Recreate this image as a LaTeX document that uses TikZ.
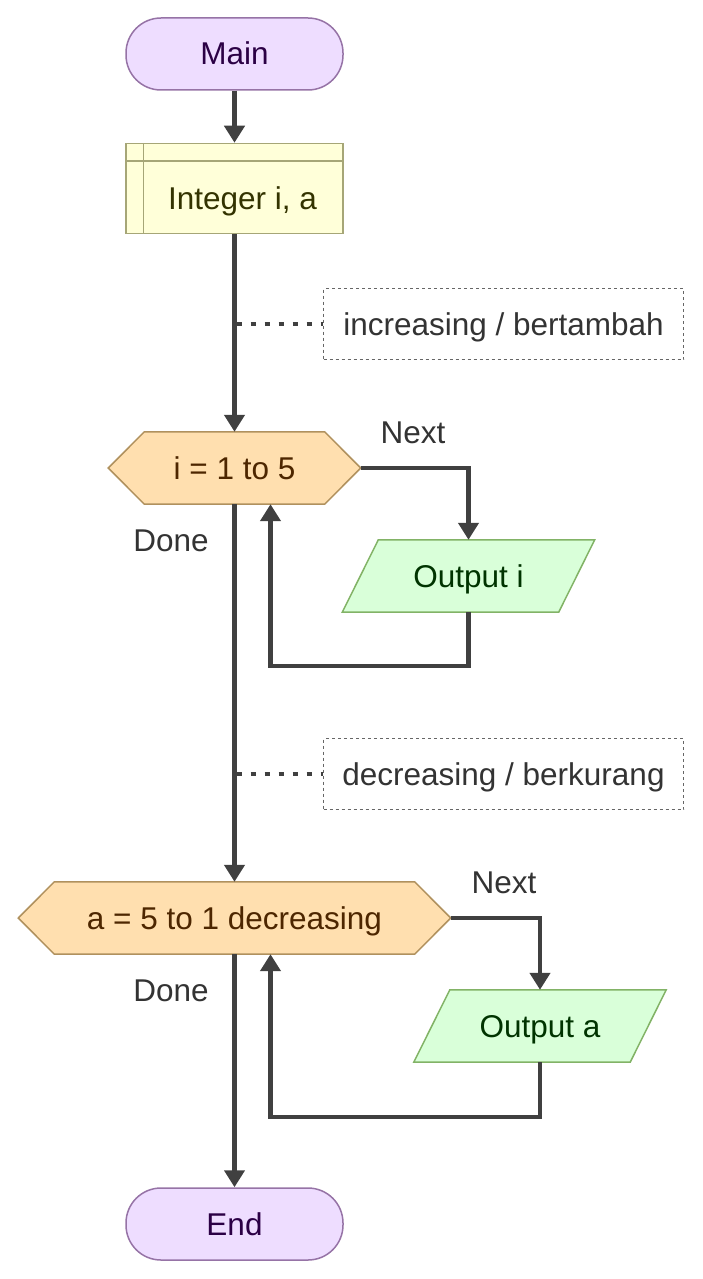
\documentclass[tikz,border=0pt]{standalone}
\usepackage{fontspec}
\setmainfont{Liberation Sans}
\usetikzlibrary{arrows.meta,calc,backgrounds}
\definecolor{termfill}{HTML}{EEDDFF}
\definecolor{termline}{HTML}{9673A6}
\definecolor{termtext}{HTML}{2B0045}
\definecolor{procfill}{HTML}{FFFFD9}
\definecolor{procline}{HTML}{A6A677}
\definecolor{proctext}{HTML}{333300}
\definecolor{hexfill}{HTML}{FFDFAF}
\definecolor{hexline}{HTML}{B0915E}
\definecolor{hextext}{HTML}{4D2600}
\definecolor{parafill}{HTML}{D9FFD9}
\definecolor{paraline}{HTML}{82B366}
\definecolor{paratext}{HTML}{003300}
\definecolor{linec}{HTML}{404040}
\definecolor{lbltext}{HTML}{333333}
\definecolor{cmtline}{HTML}{666666}
\begin{document}
\begin{tikzpicture}[x=1pt,y=-1pt,
  every node/.style={font=\fontsize{31.5}{37}\selectfont, inner sep=0pt, text height=22pt, text depth=0pt},
  term/.style={draw=termline, fill=termfill, line width=1.5pt, rounded corners=35pt,
    minimum width=217pt, minimum height=72pt, text=termtext},
  procbox/.style={draw=procline, fill=procfill, line width=1.5pt, minimum width=217pt, minimum height=90pt},
  procsep/.style={draw=procline, line width=1.5pt},
  proctxt/.style={text=proctext},
  hexnode/.style={minimum height=72pt, text=hextext},
  hexshape/.style={draw=hexline, fill=hexfill, line width=1.5pt, line join=miter},
  paranode/.style={minimum width=252pt, minimum height=72pt, text=paratext},
  parashape/.style={draw=paraline, fill=parafill, line width=1.5pt},
  cmt/.style={draw=cmtline, dash pattern=on 3pt off 3pt, line width=1.5pt,
    minimum width=360pt, minimum height=71pt, text=lbltext},
  lbl/.style={text=lbltext},
  conn/.style={draw=linec, line width=4.5pt, -{Triangle[length=17pt,width=20pt]}},
  dotline/.style={draw=linec, line width=4pt, dash pattern=on 5pt off 9pt, dash phase=-2pt}
]
\useasboundingbox (0,0) rectangle (703,1279);

% nodes
\node[term] (main) at (234.5,54) {Main};
\node[procbox] (int) at (234.5,188.5) {};
\node[proctxt] (intt) at (242.5,198) {Integer i, a};
\node[cmt] (c1) at (503.5,324) {increasing / bertambah};
\node[hexnode, minimum width=252pt] (h1) at (234.5,468) {i = 1 to 5};
\node[paranode] (p1) at (468.5,576) {Output i};
\node[cmt] (c2) at (503.5,774) {decreasing / berkurang};
\node[hexnode, minimum width=432pt] (h2) at (234.5,918) {a = 5 to 1 decreasing};
\node[paranode] (p2) at (540,1026) {Output a};
\node[term] (end) at (234.5,1224) {End};
\node[lbl] (n1) at (413,432) {Next};
\node[lbl] (d1) at (171,540) {Done};
\node[lbl] (n2) at (504,882) {Next};
\node[lbl] (d2) at (171,990) {Done};

% inner bars of the process box
\draw[procsep] ([xshift=18pt]int.north west) -- ([xshift=18pt]int.south west);
\draw[procsep] ([yshift=-18pt]int.north west) -- ([yshift=-18pt]int.north east);

\begin{scope}[on background layer]
  \path[hexshape] (h1.west) -- ([xshift=36pt]h1.north west) -- ([xshift=-36pt]h1.north east)
    -- (h1.east) -- ([xshift=-36pt]h1.south east) -- ([xshift=36pt]h1.south west) -- cycle;
  \path[hexshape] (h2.west) -- ([xshift=36pt]h2.north west) -- ([xshift=-36pt]h2.north east)
    -- (h2.east) -- ([xshift=-36pt]h2.south east) -- ([xshift=36pt]h2.south west) -- cycle;
  \path[parashape] (p1.south west) -- ([xshift=36pt]p1.north west) -- (p1.north east)
    -- ([xshift=-36pt]p1.south east) -- cycle;
  \path[parashape] (p2.south west) -- ([xshift=36pt]p2.north west) -- (p2.north east)
    -- ([xshift=-36pt]p2.south east) -- cycle;
\end{scope}

% connectors
\draw[conn] (main.south) -- (int.north);
\draw[conn] (int.south) -- (h1.north);
\coordinate (k1) at (int.south |- c1.west);
\draw[dotline] (k1) -- (c1.west);
\draw[conn] (h1.east) -| (p1.north);
\draw[conn] (p1.south) -- ++(0,54) -| ([xshift=36pt]h1.south);
\draw[conn] (h1.south) -- (h2.north);
\coordinate (k2) at (h1.south |- c2.west);
\draw[dotline] (k2) -- (c2.west);
\draw[conn] (h2.east) -| (p2.north);
\draw[conn] (p2.south) -- ++(0,55) -| ([xshift=36pt]h2.south);
\draw[conn] (h2.south) -- (end.north);
\end{tikzpicture}
\end{document}
